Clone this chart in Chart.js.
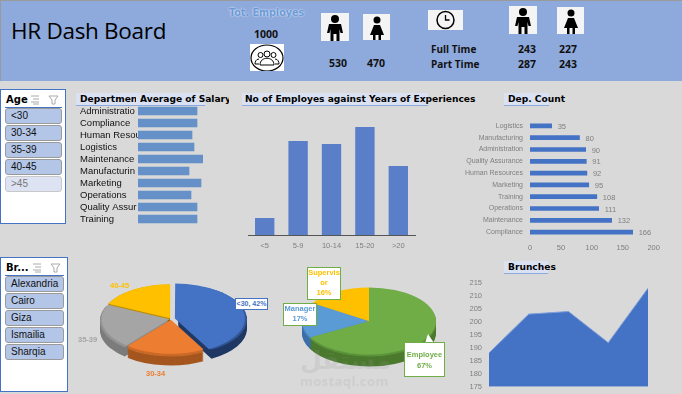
<!DOCTYPE html>
<html>
<head>
<meta charset="utf-8">
<title>HR Dash Board</title>
<script src="https://cdn.jsdelivr.net/npm/chart.js@4"></script>
<style>
html, body { margin: 0; padding: 0; }
body { width: 682px; height: 394px; overflow: hidden; background: #d9d9d9; position: relative; font-family: "Liberation Sans", sans-serif; }
canvas { position: absolute; }
.t { position: absolute; white-space: nowrap; line-height: 1; }
#head { position: absolute; left: 1px; top: 1px; width: 681px; height: 80px; background: #8ea9db; }
#topline { position: absolute; left: 0; top: 0; width: 682px; height: 1px; background: #9a9a9a; }
#leftline { position: absolute; left: 0; top: 0; width: 1px; height: 81px; background: #9a9a9a; }
.num { font: bold 10.5px "Open Sans", sans-serif; color: #111; transform: translateX(-50%); }
.icon { position: absolute; background: #f4f4f4; }
.title { position: absolute; background: #d9e1f2; border-bottom: 1px solid #8ea9db; height: 12px; }
.ttext { position: absolute; font: bold 9.1px "DejaVu Sans", sans-serif; color: #000; white-space: nowrap; line-height: 12px; }
.slicer { position: absolute; background: #fff; border: 1px solid #4472c4; box-sizing: border-box; }
.shead { position: absolute; left: 5px; top: 4px; font: bold 10px "DejaVu Sans", sans-serif; }
.sline { position: absolute; left: 4px; top: 17px; height: 1px; background: #4472c4; }
.sbtn { position: absolute; left: 4px; height: 14px; background: #b4c6e7; border: 1px solid #9a9a9a; border-radius: 3px; font: 10px/14px "Liberation Sans", sans-serif; padding-left: 5px; box-sizing: content-box; color: #111; }
.sbtn.off { background: #dde3f3; border-color: #c8c8c8; color: #777; }
.lbl { position: absolute; font: bold 7.5px/10px "Liberation Sans", sans-serif; text-align: center; white-space: nowrap; }
.box { background: #fff; box-sizing: border-box; }
</style>
</head>
<body>
<div id="head"></div>
<div id="topline"></div>
<div id="leftline"></div>
<div class="t" style="left:11px;top:15px;font:22.500px 'Open Sans',sans-serif;letter-spacing:-0.3px;color:#000">HR Dash Board</div>
<div class="t" style="left:229px;top:7px;font:bold 9.600px 'DejaVu Sans',sans-serif;color:#6c9bd8;text-shadow:0 0 2px #fff">Tot. Employes</div>
<div id="kpis"></div>

<div class="title" style="left:76px;top:93px;width:129px"></div>
<div class="ttext" style="left:80px;top:93px;width:56px;overflow:hidden">Department</div>
<div class="ttext" style="left:140px;top:93px;width:89px;overflow:hidden">Average of Salary</div>
<div class="title" style="left:242px;top:93px;width:186px"></div>
<div class="ttext" style="left:245px;top:93px">No of Employes against Years of Experiences</div>
<div class="title" style="left:504px;top:93px;width:45px"></div>
<div class="ttext" style="left:508px;top:93px">Dep. Count</div>
<div class="title" style="left:504px;top:261px;width:44px"></div>
<div class="ttext" style="left:508px;top:261px">Brunches</div>

<div class="slicer" style="left:0;top:89px;width:66px;height:135px" id="ageSlicer"></div>
<div class="slicer" style="left:0;top:257px;width:68px;height:135px" id="branchSlicer"></div>

<canvas id="salaryChart" width="123" height="125" style="left:80px;top:105px"></canvas>
<canvas id="yearsChart" width="180" height="140" style="left:240px;top:115px"></canvas>
<canvas id="depChart" width="195" height="143" style="left:465px;top:115px"></canvas>
<canvas id="ageChart" width="170" height="100" style="left:86px;top:269px"></canvas>
<canvas id="roleChart" width="170" height="100" style="left:284px;top:271px"></canvas>
<canvas id="branchChart" width="190" height="119" style="left:465px;top:275px"></canvas>

<div class="lbl" style="left:110px;top:281px;color:#ffc000">40-45</div>
<div class="lbl" style="left:78px;top:335px;color:#a5a5a5">35-39</div>
<div class="lbl" style="left:146px;top:369px;color:#ed7d31">30-34</div>
<div class="lbl box" style="left:235px;top:298px;width:33px;height:12px;border:1px solid #4472c4;color:#4472c4;line-height:10px;font-size:7px">&lt;30, 42%</div>

<div class="t" style="left:300px;top:372px;font:bold 13px 'Open Sans',sans-serif;color:rgba(150,150,150,.18);letter-spacing:.4px">mostaql.com</div>
<div class="t" style="left:300px;top:342px;font:bold 25px 'Noto Sans','DejaVu Sans',sans-serif;color:rgba(150,150,150,.18)">مستقل</div>

<div style="position:absolute;left:425px;top:334px;width:0;height:0;border-left:3px solid transparent;border-right:6px solid transparent;border-bottom:9px solid #fff"></div>
<div class="lbl box" style="left:404px;top:342px;width:41px;height:35px;border:1.5px solid #70ad47;color:#70ad47;padding-top:6px;line-height:11px">Employee<br>67%</div>
<div class="lbl box" style="left:283px;top:303px;width:34px;height:23px;border:1.5px solid #70ad47;color:#5b9bd5;line-height:10px">Manager<br>17%</div>
<div class="lbl box" style="left:307px;top:267px;width:34px;height:33px;border:1.5px solid #70ad47;color:#ffc000;line-height:10px">Supervis<br>or<br>16%</div>

<script>
// Header figures
const totalEmployees = 1000;
const genderCounts = [530, 470];
const fullTimeCounts = [243, 227];
const partTimeCounts = [287, 243];

// Slicers
const ageGroups = ['<30', '30-34', '35-39', '40-45', '>45'];
const branchNames = ['Alexandria', 'Cairo', 'Giza', 'Ismailia', 'Sharqia'];

// Average of salary (labels are cut off in the original cells)
const salaryDepts = ['Administratio', 'Compliance', 'Human Resou', 'Logistics', 'Maintenance', 'Manufacturin', 'Marketing', 'Operations', 'Quality Assur', 'Training'];
const salaryValues = [5900, 5900, 5400, 5600, 6500, 5100, 6300, 5300, 5900, 5900];

// Employees against years of experience
const yearBands = ['<5', '5-9', '10-14', '15-20', '>20'];
const yearCounts = [45, 248, 240, 285, 182];

// Department head count
const depNames = ['Logistics', 'Manufacturing', 'Administration', 'Quality Assurance', 'Human Resources', 'Marketing', 'Training', 'Operations', 'Maintenance', 'Compliance'];
const depCounts = [35, 80, 90, 91, 92, 95, 108, 111, 132, 166];

// Pies
const ageShares = [42, 19, 21, 18];
const ageColors = ['#4472c4', '#ed7d31', '#a5a5a5', '#ffc000'];
const ageSides = ['#1f3864', '#a5561f', '#7c7c7c', '#7f6000'];
const ageOffsets = [16, 6, 6, 6];
const roleNames = ['Employee', 'Manager', 'Supervisor'];
const roleShares = [67, 17, 16];
const roleColors = ['#70ad47', '#5b9bd5', '#ffc000'];
const roleSides = ['#4b7a2e', '#3a6fa8', '#a67c00'];

// Branches
const branchValues = [188, 203, 204, 192, 213];

const grayText = '#7f7f7f';
const smallFont = { family: 'Liberation Sans', size: 7.5 };
Chart.defaults.animation = false;
Chart.defaults.plugins.legend.display = false;
Chart.defaults.plugins.tooltip.enabled = false;
Chart.defaults.responsive = false;

// Header
function addText(text, x, y, cls, style) {
    const d = document.createElement('div');
    d.className = 't ' + cls;
    d.textContent = text;
    d.style.left = x + 'px';
    d.style.top = y + 'px';
    if (style) d.style.cssText += style;
    document.getElementById('kpis').appendChild(d);
}
addText(totalEmployees, 266, 27, 'num');
addText(genderCounts[0], 338, 56, 'num');
addText(genderCounts[1], 376, 56, 'num');
addText('Full Time', 431, 42, '', 'font:bold 10px "Open Sans",sans-serif;color:#111');
addText('Part Time', 431, 57, '', 'font:bold 10px "Open Sans",sans-serif;color:#111');
addText(fullTimeCounts[0], 527, 42, 'num');
addText(fullTimeCounts[1], 568, 42, 'num');
addText(partTimeCounts[0], 527, 57, 'num');
addText(partTimeCounts[1], 568, 57, 'num');

const manIcon = '<circle cx="14" cy="6" r="4"/><path d="M8 11h12l2 9h-2.500l-1-4v12h-3v-7h-3v7h-3V16l-1 4H6z"/>';
const womanIcon = '<circle cx="14" cy="6" r="3.500"/><path d="M11 11h6l4 10h-3v7h-2.500v-7h-3v7H10v-7H7z"/>';
const clockIcon = '<circle cx="17.500" cy="10" r="8.500" fill="none" stroke="#000" stroke-width="1.500"/><path d="M17.500 5v5h4" fill="none" stroke="#000" stroke-width="1.300"/>';
const groupIcon = '<ellipse cx="17" cy="14" rx="16" ry="13" fill="none" stroke="#000" stroke-width="1.200"/><g fill="none" stroke="#000" stroke-width="1"><circle cx="17" cy="10" r="3"/><circle cx="10.500" cy="11" r="2.500"/><circle cx="23.500" cy="11" r="2.500"/><path d="M10 21c0-9 14-9 14 0z"/><path d="M9 15c-3 0-4 3-4 5h4M25 15c3 0 4 3 4 5h-4"/></g>';
function addIcon(svg, x, y, w, h, bg) {
    const s = document.createElementNS('http://www.w3.org/2000/svg', 'svg');
    s.setAttribute('class', 'icon');
    s.setAttribute('width', w);
    s.setAttribute('height', h);
    s.setAttribute('viewBox', '0 0 ' + w + ' ' + h);
    s.style.left = x + 'px';
    s.style.top = y + 'px';
    if (bg) s.style.background = bg;
    s.innerHTML = svg;
    document.getElementById('kpis').appendChild(s);
}
addIcon(manIcon, 321, 13, 28, 28);
addIcon(womanIcon, 363, 14, 27, 26);
addIcon(clockIcon, 428, 10, 35, 20);
addIcon(manIcon, 509, 6, 28, 28);
addIcon(womanIcon, 557, 7, 27, 27);
addIcon(groupIcon, 250, 44, 34, 27, '#fff');

// Slicers
function buildSlicer(id, title, items, width, offFrom) {
    const el = document.getElementById(id);
    let html = '<div class="shead">' + title + '</div>';
    html += '<div class="sline" style="width:' + (width - 9) + 'px"></div>';
    html += '<svg style="position:absolute;left:' + (title === 'Age' ? 29 : 31) + 'px;top:5px" width="30" height="10"><g stroke="#aaa" stroke-width="1"><path d="M1 1h8M3 4h6M1 7h8M3 9h6M19 1h9l-3 4v4h-3V5z" fill="none"/></g></svg>';
    items.forEach(function (name, i) {
        const label = name.replace('<', '&lt;').replace('>', '&gt;');
        html += '<div class="sbtn' + (i >= offFrom ? ' off' : '') + '" style="top:' + (18 + i * 17) + 'px;width:' + (width - 16) + 'px">' + label + '</div>';
    });
    el.innerHTML = html;
}
buildSlicer('ageSlicer', 'Age', ageGroups, 66, 4);
buildSlicer('branchSlicer', 'Br...', branchNames, 68, 99);

// Keeps the plot area where we want it: no extra room for half labels
function noPadding(s) {
    s.paddingTop = 0;
    s.paddingBottom = 0;
    s.paddingLeft = 0;
    s.paddingRight = 0;
}
const fixedWidth = w => s => { s.width = w; noPadding(s); };
const fixedHeight = h => s => { s.height = h; noPadding(s); };
const noGrid = { display: false, drawTicks: false };

// Average of salary
new Chart(document.getElementById('salaryChart'), {
    type: 'bar',
    data: { labels: salaryDepts, datasets: [{ data: salaryValues, backgroundColor: '#6590c8', barThickness: 8 }] },
    options: {
        indexAxis: 'y',
        scales: {
            x: { display: false, min: 0, max: 6500 },
            y: {
                afterFit: fixedWidth(58),
                grid: noGrid,
                border: { display: false },
                ticks: { crossAlign: 'far', color: '#111', autoSkip: false, font: { family: 'Liberation Sans', size: 9.500 } }
            }
        },
        layout: { padding: { bottom: 5 } }
    }
});

// Years of experience
new Chart(document.getElementById('yearsChart'), {
    type: 'bar',
    data: { labels: yearBands, datasets: [{ data: yearCounts, backgroundColor: '#5a7fc8', barPercentage: 0.58, categoryPercentage: 1 }] },
    options: {
        scales: {
            y: { display: false, min: 0, max: 300 },
            x: {
                afterFit: fixedHeight(20),
                grid: noGrid,
                border: { color: '#555' },
                ticks: { color: grayText, font: smallFont, padding: 6 }
            }
        },
        layout: { padding: { left: 8, right: 5, top: 6.300 } }
    }
});

// Data labels for the department counts
const barValueLabels = {
    id: 'barValueLabels',
    afterDatasetsDraw(chart) {
        const ctx = chart.ctx;
        ctx.save();
        ctx.fillStyle = grayText;
        ctx.font = '7.5px "Liberation Sans"';
        ctx.textBaseline = 'middle';
        chart.getDatasetMeta(0).data.forEach(function (bar, i) {
            ctx.fillText(depCounts[i], bar.x + 6, bar.y + 1);
        });
        ctx.restore();
    }
};

new Chart(document.getElementById('depChart'), {
    type: 'bar',
    data: { labels: depNames, datasets: [{ data: depCounts, backgroundColor: '#4472c4', barThickness: 4 }] },
    options: {
        indexAxis: 'y',
        scales: {
            x: {
                min: 0, max: 200,
                afterFit: fixedHeight(20),
                grid: noGrid,
                border: { display: false },
                ticks: { stepSize: 50, color: grayText, font: smallFont, padding: 5 }
            },
            y: {
                afterFit: fixedWidth(65),
                grid: noGrid,
                border: { display: false },
                ticks: { color: grayText, autoSkip: false, font: { family: 'Liberation Sans', size: 7 }, padding: 7 }
            }
        },
        layout: { padding: { top: 5, right: 6.300 } }
    },
    plugins: [barValueLabels]
});

// Flattens the pie and draws the slice sides below it
const tiltedPie = {
    id: 'tiltedPie',
    beforeDatasetsDraw(chart, args, opts) {
        const ctx = chart.ctx;
        const arcs = chart.getDatasetMeta(0).data;
        const cy = arcs[0].y;
        ctx.save();
        ctx.translate(0, cy);
        ctx.scale(1, opts.tilt);
        ctx.translate(0, -cy);
        for (let d = opts.depth; d >= 1; d--) {
            arcs.forEach(function (arc, i) {
                const off = (arc.options.offset || 0) / 2;
                const mid = (arc.startAngle + arc.endAngle) / 2;
                const x = arc.x + Math.cos(mid) * off;
                const y = arc.y + Math.sin(mid) * off + d / opts.tilt;
                ctx.beginPath();
                ctx.moveTo(x, y);
                ctx.arc(x, y, arc.outerRadius, arc.startAngle, arc.endAngle);
                ctx.closePath();
                ctx.fillStyle = opts.sides[i];
                ctx.fill();
                // lighter bevel just under the top face
                if (d <= 2) {
                    ctx.globalAlpha = 0.55;
                    ctx.fillStyle = arc.options.backgroundColor;
                    ctx.fill();
                    ctx.globalAlpha = 1;
                }
            });
        }
    },
    afterDatasetsDraw(chart) {
        chart.ctx.restore();
    }
};

function pieChart(id, labels, values, colors, sides, offsets, radius, depth) {
    return new Chart(document.getElementById(id), {
        type: 'pie',
        data: { labels: labels, datasets: [{ data: values, backgroundColor: colors, borderWidth: 0, offset: offsets, clip: false }] },
        options: {
            radius: radius,
            plugins: { tiltedPie: { tilt: 0.5, depth: depth, sides: sides } }
        },
        plugins: [tiltedPie]
    });
}
pieChart('ageChart', ageGroups.slice(0, 4), ageShares, ageColors, ageSides, ageOffsets, 68, 11);
pieChart('roleChart', roleNames, roleShares, roleColors, roleSides, 0, 67, 12);

// Branches
new Chart(document.getElementById('branchChart'), {
    type: 'line',
    data: {
        labels: branchNames,
        datasets: [{ data: branchValues, fill: 'start', backgroundColor: '#4472c4', borderColor: '#7f9fd8', borderWidth: 1, pointRadius: 0, tension: 0 }]
    },
    options: {
        scales: {
            x: { display: false },
            y: {
                min: 175, max: 215,
                afterFit: fixedWidth(24),
                grid: noGrid,
                border: { display: false },
                ticks: { stepSize: 5, color: grayText, font: smallFont, padding: 7 }
            }
        },
        layout: { padding: { top: 8, bottom: 7.300, right: 7 } }
    }
});
</script>
</body>
</html>
